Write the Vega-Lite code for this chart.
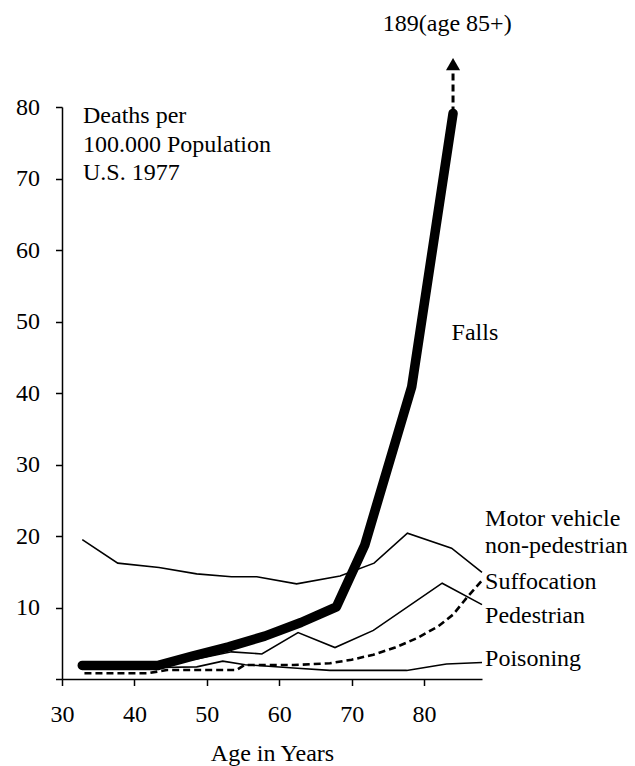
{
  "$schema": "https://vega.github.io/schema/vega-lite/v6.json",
  "width": 420,
  "height": 572,
  "autosize": {"type": "none"},
  "padding": {"left": 62, "top": 107, "right": 153, "bottom": 87},
  "background": "white",
  "config": {
    "view": {"stroke": null},
    "font": "'Liberation Serif', 'Times New Roman', Times, 'DejaVu Serif', serif",
    "axis": {
      "domainColor": "black",
      "domainWidth": 1.5,
      "tickColor": "black",
      "tickWidth": 1.5,
      "tickSize": 6.5,
      "grid": false,
      "labelFont": "'Liberation Serif', 'Times New Roman', Times, 'DejaVu Serif', serif",
      "labelFontSize": 24,
      "labelColor": "black",
      "titleFont": "'Liberation Serif', 'Times New Roman', Times, 'DejaVu Serif', serif",
      "titleFontSize": 24,
      "titleFontWeight": "normal",
      "titleColor": "black"
    }
  },
  "datasets": {
    "lines": [
      {"series": "Falls", "age": 32.8, "value": 1.9},
      {"series": "Falls", "age": 43.3, "value": 1.9},
      {"series": "Falls", "age": 48.0, "value": 3.2},
      {"series": "Falls", "age": 53.0, "value": 4.5},
      {"series": "Falls", "age": 58.0, "value": 6.0},
      {"series": "Falls", "age": 63.0, "value": 7.9},
      {"series": "Falls", "age": 67.9, "value": 10.1},
      {"series": "Falls", "age": 71.8, "value": 18.7},
      {"series": "Falls", "age": 78.3, "value": 40.9},
      {"series": "Falls", "age": 84.0, "value": 79.1},
      {"series": "Falls 85+", "age": 84.0, "value": 79.1},
      {"series": "Falls 85+", "age": 84.0, "value": 85.0},
      {"series": "Motor vehicle non-pedestrian", "age": 32.8, "value": 19.5},
      {"series": "Motor vehicle non-pedestrian", "age": 37.7, "value": 16.2},
      {"series": "Motor vehicle non-pedestrian", "age": 43.4, "value": 15.6},
      {"series": "Motor vehicle non-pedestrian", "age": 48.6, "value": 14.7},
      {"series": "Motor vehicle non-pedestrian", "age": 53.4, "value": 14.3},
      {"series": "Motor vehicle non-pedestrian", "age": 56.9, "value": 14.3},
      {"series": "Motor vehicle non-pedestrian", "age": 62.4, "value": 13.3},
      {"series": "Motor vehicle non-pedestrian", "age": 68.4, "value": 14.4},
      {"series": "Motor vehicle non-pedestrian", "age": 73.1, "value": 16.2},
      {"series": "Motor vehicle non-pedestrian", "age": 77.7, "value": 20.4},
      {"series": "Motor vehicle non-pedestrian", "age": 83.8, "value": 18.3},
      {"series": "Motor vehicle non-pedestrian", "age": 88.0, "value": 14.9},
      {"series": "Pedestrian", "age": 32.8, "value": 2.0},
      {"series": "Pedestrian", "age": 37.7, "value": 1.9},
      {"series": "Pedestrian", "age": 43.4, "value": 2.0},
      {"series": "Pedestrian", "age": 48.6, "value": 2.8},
      {"series": "Pedestrian", "age": 53.4, "value": 3.8},
      {"series": "Pedestrian", "age": 57.6, "value": 3.5},
      {"series": "Pedestrian", "age": 62.6, "value": 6.5},
      {"series": "Pedestrian", "age": 67.7, "value": 4.4},
      {"series": "Pedestrian", "age": 73.0, "value": 6.8},
      {"series": "Pedestrian", "age": 82.5, "value": 13.4},
      {"series": "Pedestrian", "age": 88.0, "value": 10.4},
      {"series": "Poisoning", "age": 32.8, "value": 1.8},
      {"series": "Poisoning", "age": 43.4, "value": 1.6},
      {"series": "Poisoning", "age": 48.6, "value": 1.7},
      {"series": "Poisoning", "age": 52.2, "value": 2.5},
      {"series": "Poisoning", "age": 55.3, "value": 2.0},
      {"series": "Poisoning", "age": 62.5, "value": 1.5},
      {"series": "Poisoning", "age": 67.0, "value": 1.2},
      {"series": "Poisoning", "age": 77.6, "value": 1.2},
      {"series": "Poisoning", "age": 81.8, "value": 1.9},
      {"series": "Poisoning", "age": 83.1, "value": 2.1},
      {"series": "Poisoning", "age": 88.0, "value": 2.3},
      {"series": "Suffocation", "age": 33.1, "value": 0.8},
      {"series": "Suffocation", "age": 41.8, "value": 0.8},
      {"series": "Suffocation", "age": 44.5, "value": 1.25},
      {"series": "Suffocation", "age": 54.1, "value": 1.25},
      {"series": "Suffocation", "age": 55.2, "value": 1.95},
      {"series": "Suffocation", "age": 62.0, "value": 1.95},
      {"series": "Suffocation", "age": 67.0, "value": 2.2},
      {"series": "Suffocation", "age": 70.0, "value": 2.7},
      {"series": "Suffocation", "age": 73.0, "value": 3.4},
      {"series": "Suffocation", "age": 76.0, "value": 4.4},
      {"series": "Suffocation", "age": 79.0, "value": 5.7},
      {"series": "Suffocation", "age": 82.0, "value": 7.4},
      {"series": "Suffocation", "age": 84.0, "value": 9.0},
      {"series": "Suffocation", "age": 86.0, "value": 11.5},
      {"series": "Suffocation", "age": 88.1, "value": 13.9}
    ],
    "arrow": [
      {"age": 84.0, "value": 86.0}
    ],
    "labels": [
      {"label": "Deaths per", "age": 32.9, "value": 77.74},
      {"label": "100.000 Population", "age": 32.9, "value": 73.77},
      {"label": "U.S. 1977", "age": 32.9, "value": 69.8},
      {"label": "189(age 85+)", "age": 74.3, "value": 90.6},
      {"label": "Falls", "age": 83.8, "value": 47.45},
      {"label": "Motor vehicle", "age": 88.42, "value": 21.34},
      {"label": "non-pedestrian", "age": 88.42, "value": 17.62},
      {"label": "Suffocation", "age": 88.42, "value": 12.59},
      {"label": "Pedestrian", "age": 88.42, "value": 7.83},
      {"label": "Poisoning", "age": 88.42, "value": 1.76}
    ]
  },
  "encoding": {
    "x": {
      "field": "age",
      "type": "quantitative",
      "scale": {"domain": [30, 88], "nice": false, "zero": false},
      "axis": {
        "values": [30, 40, 50, 60, 70, 80],
        "title": "Age in Years",
        "labelPadding": 17,
        "titlePadding": 15,
        "labelFlush": false
      }
    },
    "y": {
      "field": "value",
      "type": "quantitative",
      "scale": {"domain": [0, 80], "nice": false, "zero": false},
      "axis": {
        "values": [0, 10, 20, 30, 40, 50, 60, 70, 80],
        "title": null,
        "labelPadding": 16,
        "labelExpr": "datum.value == 0 ? '' : datum.label"
      }
    }
  },
  "layer": [
    {
      "data": {"name": "lines"},
      "transform": [{"filter": "datum.series == 'Motor vehicle non-pedestrian' || datum.series == 'Pedestrian' || datum.series == 'Poisoning'"}],
      "mark": {"type": "line", "color": "black", "strokeWidth": 1.6, "clip": false},
      "encoding": {"detail": {"field": "series"}}
    },
    {
      "data": {"name": "lines"},
      "transform": [{"filter": "datum.series == 'Suffocation'"}],
      "mark": {"type": "line", "color": "black", "strokeWidth": 2.6, "strokeDash": [7, 4], "clip": false},
      "encoding": {}
    },
    {
      "data": {"name": "lines"},
      "transform": [{"filter": "datum.series == 'Falls 85+'"}],
      "mark": {"type": "line", "color": "black", "strokeWidth": 3, "strokeDash": [7, 4], "clip": false},
      "encoding": {}
    },
    {
      "data": {"name": "lines"},
      "transform": [{"filter": "datum.series == 'Falls'"}],
      "mark": {"type": "line", "color": "black", "strokeWidth": 9.5, "strokeCap": "round", "strokeJoin": "round", "clip": false},
      "encoding": {}
    },
    {
      "data": {"name": "arrow"},
      "mark": {"type": "point", "shape": "triangle-up", "filled": true, "color": "black", "size": 200, "opacity": 1, "clip": false},
      "encoding": {}
    },
    {
      "data": {"name": "labels"},
      "mark": {"type": "text", "align": "left", "baseline": "alphabetic", "font": "'Liberation Serif', 'Times New Roman', Times, 'DejaVu Serif', serif", "fontSize": 24, "color": "black", "clip": false},
      "encoding": {"text": {"field": "label"}}
    }
  ]
}
